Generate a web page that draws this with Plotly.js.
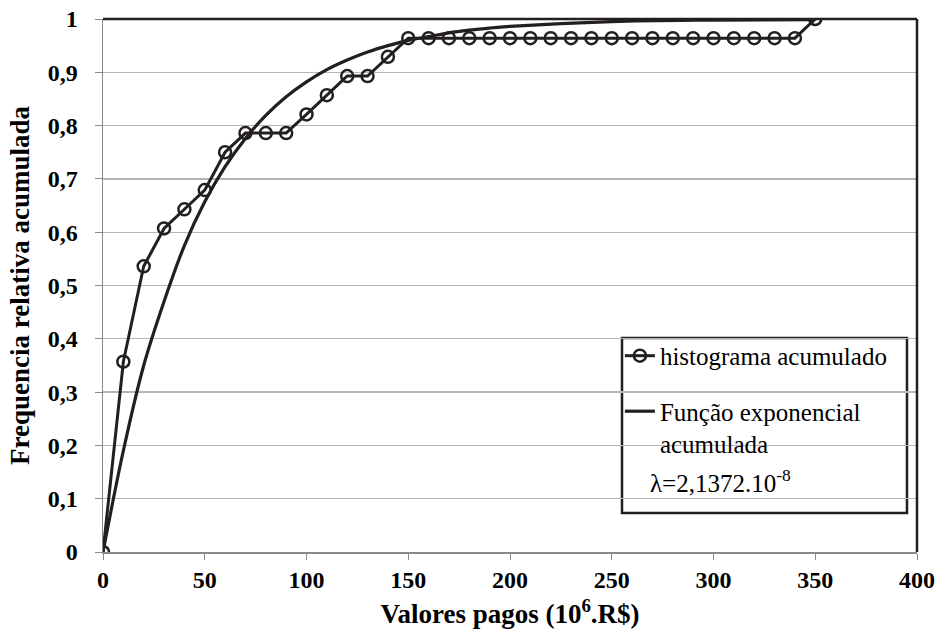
<!DOCTYPE html>
<html>
<head>
<meta charset="utf-8">
<script src="https://cdn.plot.ly/plotly-3.0.1.min.js"></script>
<style>html,body{margin:0;padding:0;background:#fff;}#chart{width:938px;height:631px;}</style>
</head>
<body>
<div id="chart"></div>
<script>
// Histogram (cumulative) values
const histX = [0,10,20,30,40,50,60,70,80,90,100,110,120,130,140,150,160,170,180,190,200,210,220,230,240,250,260,270,280,290,300,310,320,330,340,350];
const histY = [0,0.357,0.536,0.607,0.643,0.679,0.750,0.786,0.786,0.786,0.821,0.857,0.893,0.893,0.929,0.964,0.964,0.964,0.964,0.964,0.964,0.964,0.964,0.964,0.964,0.964,0.964,0.964,0.964,0.964,0.964,0.964,0.964,0.964,0.964,1.0];

// Cumulative exponential curve values
const expX = [0,10,20,30,40,50,60,70,80,90,100,110,120,130,140,150,160,170,180,190,200,250,300,350];
const expY = [0,0.19,0.35,0.47,0.575,0.657,0.723,0.776,0.819,0.854,0.882,0.905,0.923,0.938,0.950,0.960,0.967,0.974,0.979,0.983,0.986,0.995,0.998,0.999];

const seriesNames = ['histograma acumulado', 'Função exponencial<br>acumulada'];
const lambdaText = 'λ=2,1372.10<sup>-8</sup>';
const xTitle = 'Valores pagos (10<sup>6</sup>.R$)';
const yTitle = 'Frequencia relativa acumulada';

const ink = '#231f20';
const serif = 'Liberation Serif';

const traces = [
  {
    x: histX, y: histY, name: seriesNames[0], type: 'scatter', mode: 'lines+markers',
    legendgroup: 'a',
    line: {color: ink, width: 3},
    marker: {symbol: 'circle-open', size: 12, color: ink, line: {color: ink, width: 2.5}}
  },
  {
    x: expX, y: expY, name: seriesNames[1], type: 'scatter', mode: 'lines',
    legendgroup: 'b',
    line: {color: ink, width: 3.2, shape: 'spline', smoothing: 1}
  }
];

const layout = {
  width: 938, height: 631,
  margin: {l: 103, r: 21, t: 19, b: 79},
  paper_bgcolor: '#fff', plot_bgcolor: '#fff',
  separators: ',.',
  font: {family: serif, color: '#000'},
  showlegend: true,
  legend: {
    x: 0.635, y: 0.411, xanchor: 'left', yanchor: 'top',
    bgcolor: 'rgba(0,0,0,0)', borderwidth: 0,
    font: {family: serif, size: 25, color: '#000'},
    traceorder: 'grouped', tracegroupgap: 20,
    itemwidth: 30, valign: 'top'
  },
  xaxis: {
    range: [0, 400], dtick: 50, tick0: 0,
    showgrid: false, zeroline: false,
    showline: true, linecolor: '#8a8a8a', linewidth: 1.5,
    ticks: 'outside', ticklen: 6, tickcolor: '#8a8a8a',
    tickfont: {family: serif, size: 24, weight: 'bold', color: '#000'},
    title: {text: xTitle, standoff: 12, font: {family: serif, size: 27, weight: 'bold', color: '#000'}},
    automargin: false
  },
  yaxis: {
    range: [0, 1], dtick: 0.1, tick0: 0,
    showgrid: true, gridcolor: '#b5b5b5', gridwidth: 1.3,
    zeroline: false,
    showline: true, linecolor: '#8a8a8a', linewidth: 1.5,
    ticks: 'outside', ticklen: 7, tickcolor: '#8a8a8a',
    ticklabelstandoff: 12,
    tickfont: {family: serif, size: 24, weight: 'bold', color: '#000'},
    title: {text: yTitle, standoff: 10, font: {family: serif, size: 27, weight: 'bold', color: '#000'}},
    automargin: false
  },
  shapes: [
    {type: 'line', xref: 'paper', yref: 'paper', x0: 0, x1: 1, y0: 1, y1: 1, line: {color: ink, width: 2.5}},
    {type: 'line', xref: 'paper', yref: 'paper', x0: 1, x1: 1, y0: 0, y1: 1, line: {color: ink, width: 2.5}},
    {type: 'rect', xref: 'paper', yref: 'paper', x0: 0.6376, x1: 0.9877, y0: 0.0732, y1: 0.4015,
     line: {color: ink, width: 2.5}, fillcolor: 'rgba(255,255,255,1)', layer: 'below'}
  ],
  annotations: [
    {xref: 'paper', yref: 'paper', x: 0.6695, y: 0.133, xanchor: 'left', yanchor: 'middle',
     text: lambdaText, showarrow: false, font: {family: serif, size: 25, color: '#000'}}
  ]
};

Plotly.newPlot('chart', traces, layout, {displayModeBar: false, staticPlot: true});
</script>
</body>
</html>
